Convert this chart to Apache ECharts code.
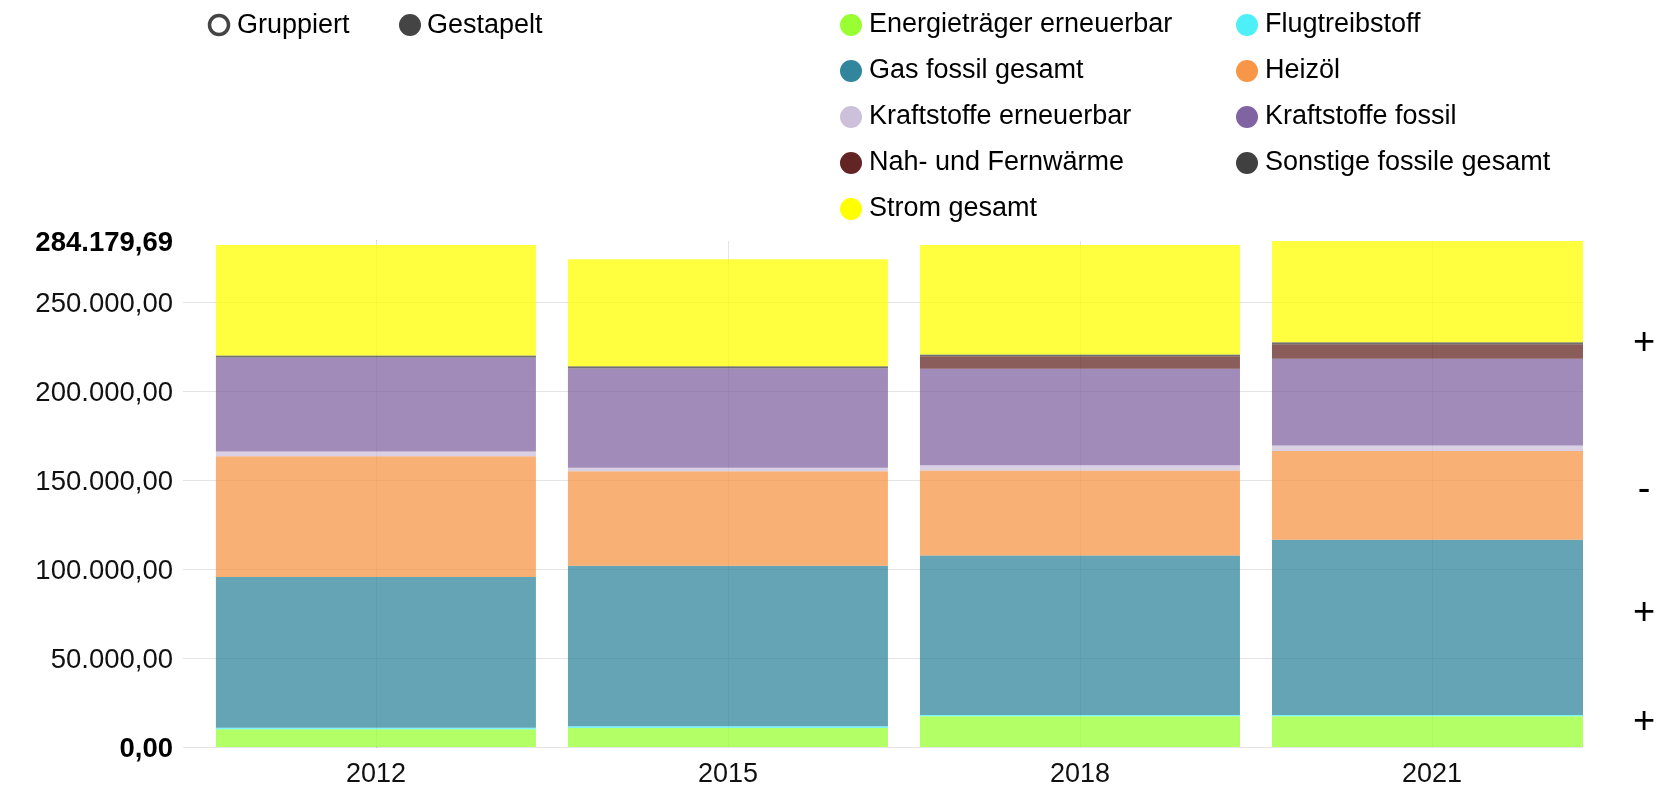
<!DOCTYPE html>
<html>
<head>
<meta charset="utf-8">
<script src="https://cdn.jsdelivr.net/npm/echarts@6/dist/echarts.min.js"></script>
<style>
html,body{margin:0;padding:0;background:#fff;}
#chart{width:1667px;height:785px;}
</style>
</head>
<body>
<div id="chart"></div>
<script>
// ---- data ----
var years = ['2012', '2015', '2018', '2021'];
var seriesNames = [
  'Energieträger erneuerbar', 'Flugtreibstoff', 'Gas fossil gesamt', 'Heizöl',
  'Kraftstoffe erneuerbar', 'Kraftstoffe fossil', 'Nah- und Fernwärme',
  'Sonstige fossile gesamt', 'Strom gesamt'
];
var energietraegerErneuerbar = [10000, 10700, 17200, 17200];
var flugtreibstoff           = [800, 900, 800, 800];
var gasFossilGesamt          = [84700, 90200, 89500, 98400];
var heizoel                  = [67800, 53100, 47800, 49900];
var kraftstoffeErneuerbar    = [2600, 1900, 3000, 3000];
var kraftstoffeFossil        = [52900, 55900, 54100, 48800];
var nahUndFernwaerme         = [0, 0, 7000, 8100];
var sonstigeFossileGesamt    = [1100, 1100, 1100, 1100];
var stromGesamt              = [62100, 60200, 61500, 56879.69];
var yTickInterval = 50000;

var allValues = [energietraegerErneuerbar, flugtreibstoff, gasFossilGesamt, heizoel,
  kraftstoffeErneuerbar, kraftstoffeFossil, nahUndFernwaerme, sonstigeFossileGesamt, stromGesamt];
var colors = ['#99ff33', '#4df0f7', '#31859c', '#f79646', '#ccc0da', '#8064a2', '#632523', '#404040', '#ffff00'];

var totals = years.map(function (_, i) {
  var s = 0; allValues.forEach(function (a) { s += a[i]; }); return s;
});
var yMax = Math.round(Math.max.apply(null, totals) * 100) / 100;

function fmtDE(v) {
  var neg = v < 0; v = Math.abs(v);
  var s = v.toFixed(2);
  var parts = s.split('.');
  var intPart = parts[0].replace(/\B(?=(\d{3})+(?!\d))/g, '.');
  return (neg ? '-' : '') + intPart + ',' + parts[1];
}

var FONT = '"Liberation Sans", Arial, Helvetica, sans-serif';
var BAR_RATIO = 320 / 352; // bar width as share of one category step

// stacked bases
var bases = years.map(function () { return 0; });
var series = seriesNames.map(function (name, k) {
  var color = colors[k];
  var data = allValues[k].map(function (v, i) {
    var d = [i, v, bases[i]];
    bases[i] += v;
    return d;
  });
  return {
    name: name,
    type: 'custom',
    clip: true,
    itemStyle: { color: color },
    encode: { x: 0, y: 1 },
    data: data,
    renderItem: function (params, api) {
      var i = api.value(0), v = api.value(1), base = api.value(2);
      if (!v) return null;
      var p0 = api.coord([i, base]);
      var p1 = api.coord([i, base + v]);
      var w = api.size([1, 0])[0] * BAR_RATIO;
      var cs = params.coordSys;
      var shape = echarts.graphic.clipRectByRect(
        { x: p0[0] - w / 2, y: p1[1], width: w, height: p0[1] - p1[1] },
        { x: cs.x, y: cs.y, width: cs.width, height: cs.height }
      );
      if (!shape) return null;
      return { type: 'rect', shape: shape, style: { fill: color, opacity: 0.75 } };
    }
  };
});

var legendText = { fontSize: 27, color: '#000', fontFamily: FONT, lineHeight: 28, padding: [0, 0, 0, 2] };

var chart = echarts.init(document.getElementById('chart'), null, { renderer: 'canvas' });
chart.setOption({
  animation: false,
  textStyle: { fontFamily: FONT },
  grid: { left: 183, right: 84, top: 241, bottom: 38, containLabel: false, outerBoundsMode: 'none' },
  legend: [
    {
      orient: 'vertical', left: 840, top: 11, padding: 0, itemWidth: 22, itemHeight: 22, itemGap: 18,
      icon: 'circle', selectedMode: false,
      itemStyle: { opacity: 1 },
      textStyle: legendText,
      data: [seriesNames[0], seriesNames[2], seriesNames[4], seriesNames[6], seriesNames[8]]
    },
    {
      orient: 'vertical', left: 1236, top: 11, padding: 0, itemWidth: 22, itemHeight: 22, itemGap: 18,
      icon: 'circle', selectedMode: false,
      itemStyle: { opacity: 1 },
      textStyle: legendText,
      data: [seriesNames[1], seriesNames[3], seriesNames[5], seriesNames[7]]
    }
  ],
  xAxis: {
    type: 'value',
    min: -0.548,
    max: 3.429,
    axisLine: { show: false },
    splitLine: { show: false },
    axisTick: {
      show: true, inside: true, length: 506,
      customValues: [0, 1, 2, 3],
      lineStyle: { color: '#e4e4e4', width: 1 }
    },
    axisLabel: {
      customValues: [0, 1, 2, 3],
      margin: 14,
      fontSize: 27,
      color: '#111',
      fontFamily: FONT,
      formatter: function (v) { return years[Math.round(v)] || ''; }
    }
  },
  yAxis: {
    type: 'value',
    min: 0,
    max: yMax,
    interval: yTickInterval,
    axisLine: { show: true, lineStyle: { color: '#808080', width: 1 } },
    axisTick: { show: false },
    splitLine: { show: true, showMaxLine: false, lineStyle: { color: '#e4e4e4', width: 1 } },
    axisLabel: {
      margin: 10,
      fontSize: 27.5,
      color: '#111',
      fontFamily: FONT,
      padding: [5, 0, 0, 0],
      showMinLabel: true,
      showMaxLabel: true,
      formatter: function (v) {
        var t = fmtDE(v);
        if (v === 0 || Math.abs(v - yMax) < 0.01) return '{b|' + t + '}';
        return t;
      },
      rich: { b: { fontWeight: 'bold', fontSize: 27.5, color: '#000', fontFamily: FONT } }
    }
  },
  graphic: [
    { type: 'circle', shape: { cx: 219, cy: 25, r: 9.5 }, style: { fill: '#fff', stroke: '#444', lineWidth: 3.5 } },
    { type: 'text', x: 237, y: 26, style: { text: 'Gruppiert', fontSize: 27, fontFamily: FONT, fill: '#000', verticalAlign: 'middle', align: 'left' } },
    { type: 'circle', shape: { cx: 410, cy: 25, r: 11 }, style: { fill: '#444' } },
    { type: 'text', x: 427, y: 26, style: { text: 'Gestapelt', fontSize: 27, fontFamily: FONT, fill: '#000', verticalAlign: 'middle', align: 'left' } },
    { type: 'text', x: 1644, y: 344, style: { text: '+', fontSize: 38, fontFamily: FONT, fill: '#000', verticalAlign: 'middle', align: 'center' } },
    { type: 'text', x: 1644, y: 491, style: { text: '-', fontSize: 38, fontFamily: FONT, fill: '#000', verticalAlign: 'middle', align: 'center' } },
    { type: 'text', x: 1644, y: 614, style: { text: '+', fontSize: 38, fontFamily: FONT, fill: '#000', verticalAlign: 'middle', align: 'center' } },
    { type: 'text', x: 1644, y: 723, style: { text: '+', fontSize: 38, fontFamily: FONT, fill: '#000', verticalAlign: 'middle', align: 'center' } }
  ],
  series: series
});
</script>
</body>
</html>
